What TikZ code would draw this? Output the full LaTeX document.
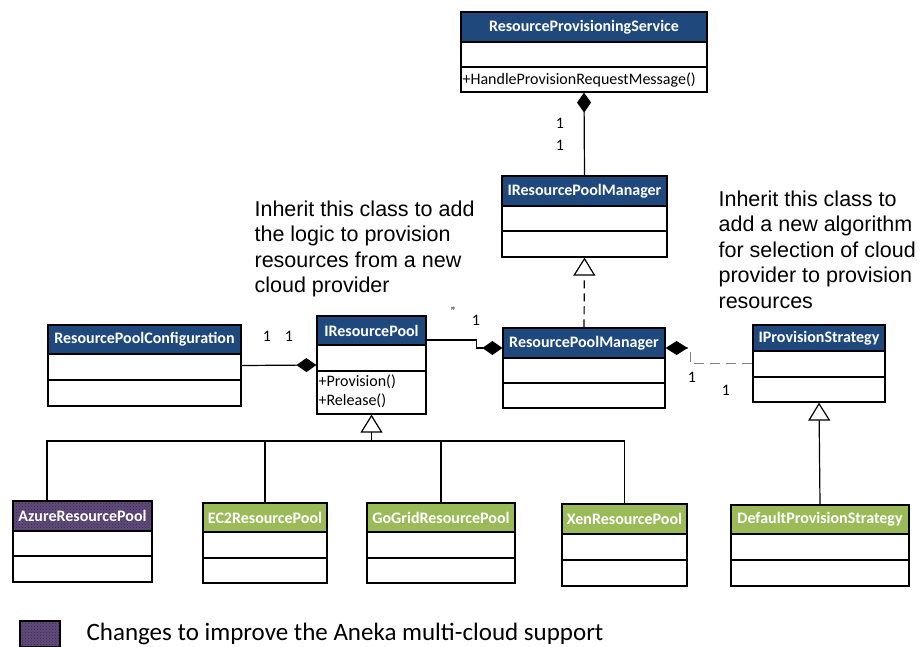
\documentclass[tikz,border=0pt]{standalone}
\usepackage{fontspec}
\setmainfont{Carlito}
\newfontfamily\notefont{Liberation Sans}
\usetikzlibrary{arrows.meta, patterns, fit, positioning, calc}

\definecolor{hdrblue}{RGB}{31,73,125}
\definecolor{hdrgreen}{RGB}{155,187,89}
\definecolor{hdrpurple}{RGB}{96,74,123}

\tikzset{
  classname/.style={text=white, font=\fontsize{16}{16}\selectfont\bfseries, inner sep=0pt},
  classop/.style={anchor=west, font=\fontsize{16}{16}\selectfont, inner sep=0pt},
  mult/.style={font=\fontsize{16}{16}\selectfont, inner sep=0pt},
  note/.style={anchor=north west, align=left, inner sep=0pt, font=\notefont\fontsize{21.5}{25.5}\selectfont},
  compo/.style={-{Diamond[length=20pt,width=14pt]}},
  realise/.style={-{Triangle[open,length=18pt,width=22pt]}},
  purplefill/.style={fill=hdrpurple, postaction={pattern=crosshatch dots, pattern color=hdrpurple!60!black}},
}

% classe UML : nom, gauche, droite, haut, fin titre, separation, bas, remplissage, titre
\newcommand{\umlclass}[9]{%
  \fill[#8] (#2,#4) rectangle (#3,#5);
  \node[draw, inner sep=0pt, fit={(#2,#4) (#3,#7)}] (#1) {};
  \draw (#2,#5) -- (#3,#5) (#2,#6) -- (#3,#6);
  \node[classname] (#1-name) at ({(#2+#3)/2},{(#4+#5)/2}) {#9};
}

\begin{document}
\begin{tikzpicture}[x=1pt,y=-1pt,line width=1.2pt]
\useasboundingbox (0,0) rectangle (921,646);
% Classes
\umlclass{rps}{461}{707}{12}{42}{67}{92}{hdrblue}{ResourceProvisioningService}
\node[classop] (rps-op) at (462,80) {+HandleProvisionRequestMessage()};
\umlclass{irpm}{502}{667}{176}{206}{231}{257}{hdrblue}{IResourcePoolManager}
\umlclass{rpm}{503}{665}{328}{358}{383}{408}{hdrblue}{ResourcePoolManager}
\umlclass{irp}{317}{426}{316}{345}{371}{414}{hdrblue}{IResourcePool}
\node[classop] (irp-op1) at (318,382) {+Provision()};
\node[classop] (irp-op2) at (318,401) {+Release()};
\umlclass{rpc}{48}{241}{325}{354}{380}{406}{hdrblue}{ResourcePoolConfiguration}
\umlclass{ips}{753}{885}{325}{351}{377}{402}{hdrblue}{IProvisionStrategy}
\umlclass{azure}{13}{152}{501}{531}{556}{582}{purplefill}{AzureResourcePool}
\umlclass{ec2}{203}{327}{503}{532}{558}{583}{hdrgreen}{EC2ResourcePool}
\umlclass{gogrid}{367}{515}{503}{532}{558}{583}{hdrgreen}{GoGridResourcePool}
\umlclass{xen}{562}{687}{504}{534}{560}{586}{hdrgreen}{XenResourcePool}
\umlclass{dps}{731}{909}{505}{534}{560}{586}{hdrgreen}{DefaultProvisionStrategy}

% Liens
\draw[compo] (irpm.north) -- (rps.south);
\draw[realise, dashed, dash pattern=on 8pt off 5pt] (rpm.north) -- (irpm.south);
\draw[compo] (rpc.east) -- (irp.west);
\draw[compo] ([yshift=25pt]irp.east) -- ++(50,0) |- ([yshift=20pt]rpm.west);
\draw[gray, dash pattern=on 10pt off 6pt, -{Diamond[length=22pt,width=14pt,color=black]}] (ips.west) -- ++(-62,0) |- ([yshift=20pt]rpm.east);
\draw[realise] (dps.north) -- (ips.south);
\coordinate (bus) at (371.5,441);
\draw[realise] (bus) -- (irp.south);
\draw ([xshift=-35.5pt]azure.north) |- (bus) -| (xen.north);
\draw (ec2.north) -- (ec2.north |- bus) (gogrid.north) -- (gogrid.north |- bus);

% Multiplicites
\node[mult] (m-rps) at (560,123) {1};
\node[mult] (m-irpm) at (560,145) {1};
\node[mult] (m-rpc) at (267,336) {1};
\node[mult] (m-irp) at (289,336) {1};
\node[mult] (m-star) at (453,311) {\fontsize{12}{12}\selectfont"};
\node[mult] (m-rpm) at (476,320) {1};
\node[mult] (m-rpm2) at (692,377) {1};
\node[mult] (m-ips) at (726,390) {1};

% Notes
\node[note] (note-pool) at (254,200) {Inherit this class to add\\the logic to provision\\resources from a new\\cloud provider};
\node[note] (note-strategy) at (718,190) {Inherit this class to\\add a new algorithm\\for selection of cloud\\provider to provision\\resources};

% Legende
\node[draw, purplefill, minimum width=40pt, minimum height=26pt, inner sep=0pt] (legend-box) at (40,634) {};
\node[anchor=base west, inner sep=0pt, font=\fontsize{25}{25}\selectfont] (legend-text) at (86,640) {Changes to improve the Aneka multi-cloud support};
\end{tikzpicture}
\end{document}
